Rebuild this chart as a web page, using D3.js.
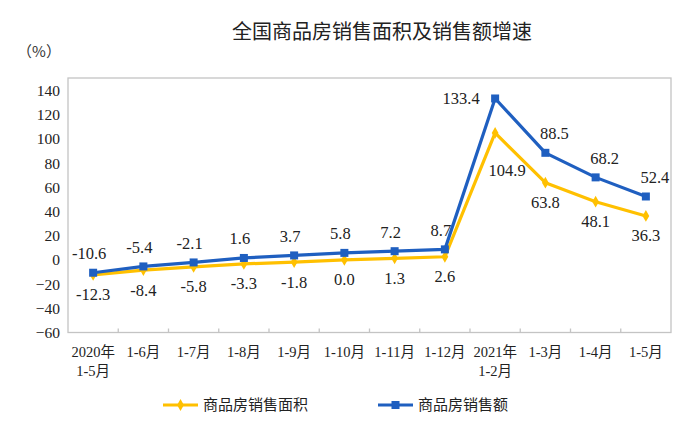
<!DOCTYPE html>
<html>
<head>
<meta charset="utf-8">
<script src="https://cdn.jsdelivr.net/npm/d3@7"></script>
<style>
  html, body { margin: 0; padding: 0; background: #fff; }
  svg { display: block; }
</style>
</head>
<body>
<svg id="chart" width="700" height="425"></svg>
<script>
const categories = ["2020年\n1-5月", "1-6月", "1-7月", "1-8月", "1-9月", "1-10月", "1-11月", "1-12月", "2021年\n1-2月", "1-3月", "1-4月", "1-5月"];
const areaGrowth = [-12.3, -8.4, -5.8, -3.3, -1.8, 0.0, 1.3, 2.6, 104.9, 63.8, 48.1, 36.3];
const salesGrowth = [-10.6, -5.4, -2.1, 1.6, 3.7, 5.8, 7.2, 8.7, 133.4, 88.5, 68.2, 52.4];
const yTicks = [-60, -40, -20, 0, 20, 40, 60, 80, 100, 120, 140];
const seriesNames = ["商品房销售面积", "商品房销售额"];
const titleText = "全国商品房销售面积及销售额增速";
const unitText = "（%）";

const yellow = "#FFC000";
const blue = "#1F5FC0";
const serif = "'Liberation Serif', 'Times New Roman', 'Noto Sans CJK SC', serif";
const sans = "'Noto Sans CJK SC', sans-serif";

const svg = d3.select("#chart");
const pLeft = 68, pRight = 671, pTop = 78, pBottom = 332.5;

const x = d3.scaleBand().domain(categories).range([pLeft, pRight]).padding(0);
const y = d3.scaleLinear().domain([-60, 140]).range([pBottom, 90.5]);
const cx = c => x(c) + x.bandwidth() / 2;

// title
svg.append("text").attr("x", 382).attr("y", 39).attr("text-anchor", "middle")
  .style("font-family", sans).style("font-size", "20px").style("fill", "#222")
  .text(titleText);
svg.append("text").attr("x", 39).attr("y", 57).attr("text-anchor", "middle")
  .style("font-family", sans).style("font-size", "15px").style("fill", "#333")
  .text(unitText);

// frame
svg.append("rect").attr("x", pLeft).attr("y", pTop).attr("width", pRight - pLeft).attr("height", pBottom - pTop)
  .attr("fill", "none").attr("stroke", "#c4c4c4").attr("stroke-width", 1.3);

// y axis
const yAxis = d3.axisLeft(y).tickValues(yTicks).tickSize(0).tickPadding(8);
const gy = svg.append("g").attr("transform", `translate(${pLeft},0)`).call(yAxis);
gy.select(".domain").remove();
gy.selectAll("text").style("font-family", serif).style("font-size", "15.5px").style("fill", "#222");

// x axis ticks (at band boundaries, pointing up)
const bounds = categories.slice(1).map(c => x(c));
svg.append("g").selectAll("line").data(bounds).join("line")
  .attr("x1", d => d).attr("x2", d => d).attr("y1", pBottom).attr("y2", pBottom - 4)
  .attr("stroke", "#c4c4c4").attr("stroke-width", 1.3);

// x labels
const xl = svg.append("g");
categories.forEach(c => {
  const t = xl.append("text").attr("x", cx(c)).attr("y", 357).attr("text-anchor", "middle")
    .style("font-family", serif).style("font-size", "14.5px").style("fill", "#222");
  c.split("\n").forEach((part, i) => {
    t.append("tspan").attr("x", cx(c)).attr("dy", i === 0 ? 0 : 19).text(part);
  });
});

// lines
const line = d3.line().x((d, i) => cx(categories[i])).y(d => y(d));
svg.append("path").datum(areaGrowth).attr("d", line).attr("fill", "none")
  .attr("stroke", yellow).attr("stroke-width", 3.2).attr("stroke-linejoin", "round");
svg.append("path").datum(salesGrowth).attr("d", line).attr("fill", "none")
  .attr("stroke", blue).attr("stroke-width", 3.2).attr("stroke-linejoin", "round");

// markers
const diamond = d3.symbol().type(d3.symbolDiamond).size(40);
svg.append("g").selectAll("path").data(areaGrowth).join("path")
  .attr("d", diamond).attr("transform", (d, i) => `translate(${cx(categories[i])},${y(d)})`)
  .attr("fill", yellow);
svg.append("g").selectAll("rect").data(salesGrowth).join("rect")
  .attr("x", (d, i) => cx(categories[i]) - 4).attr("y", d => y(d) - 4)
  .attr("width", 8).attr("height", 8).attr("fill", blue);

// labels
const fmt = d => d.toFixed(1);
const peak = salesGrowth.indexOf(d3.max(salesGrowth));
const labelStyle = sel => sel.attr("text-anchor", "middle").attr("dominant-baseline", "central")
  .style("font-family", serif).style("font-size", "16.5px").style("fill", "#222");

svg.append("g").selectAll("text").data(salesGrowth).join("text")
  .attr("x", (d, i) => cx(categories[i]) + (i === peak ? -34 : i > peak ? 9 : -4))
  .attr("y", (d, i) => y(d) + (i === peak ? 0 : -19))
  .call(labelStyle).text(fmt);

svg.append("g").selectAll("text").data(areaGrowth).join("text")
  .attr("x", (d, i) => cx(categories[i]) + (i === peak ? 12 : 0))
  .attr("y", (d, i) => y(d) + (i === peak ? 38 : 20))
  .call(labelStyle).text(fmt);

// legend
const lg = svg.append("g");
const legendItems = [
  { name: seriesNames[0], color: yellow, x0: 163, shape: "diamond" },
  { name: seriesNames[1], color: blue, x0: 378, shape: "square" }
];
legendItems.forEach(it => {
  const ly = 405;
  lg.append("line").attr("x1", it.x0).attr("x2", it.x0 + 35).attr("y1", ly).attr("y2", ly)
    .attr("stroke", it.color).attr("stroke-width", 3);
  if (it.shape === "diamond") {
    lg.append("path").attr("d", diamond).attr("transform", `translate(${it.x0 + 17.5},${ly})`).attr("fill", it.color);
  } else {
    lg.append("rect").attr("x", it.x0 + 13.5).attr("y", ly - 4).attr("width", 8).attr("height", 8).attr("fill", it.color);
  }
  lg.append("text").attr("x", it.x0 + 40).attr("y", ly).attr("dominant-baseline", "central")
    .style("font-family", serif).style("font-size", "15px").style("fill", "#222").text(it.name);
});
</script>
</body>
</html>
